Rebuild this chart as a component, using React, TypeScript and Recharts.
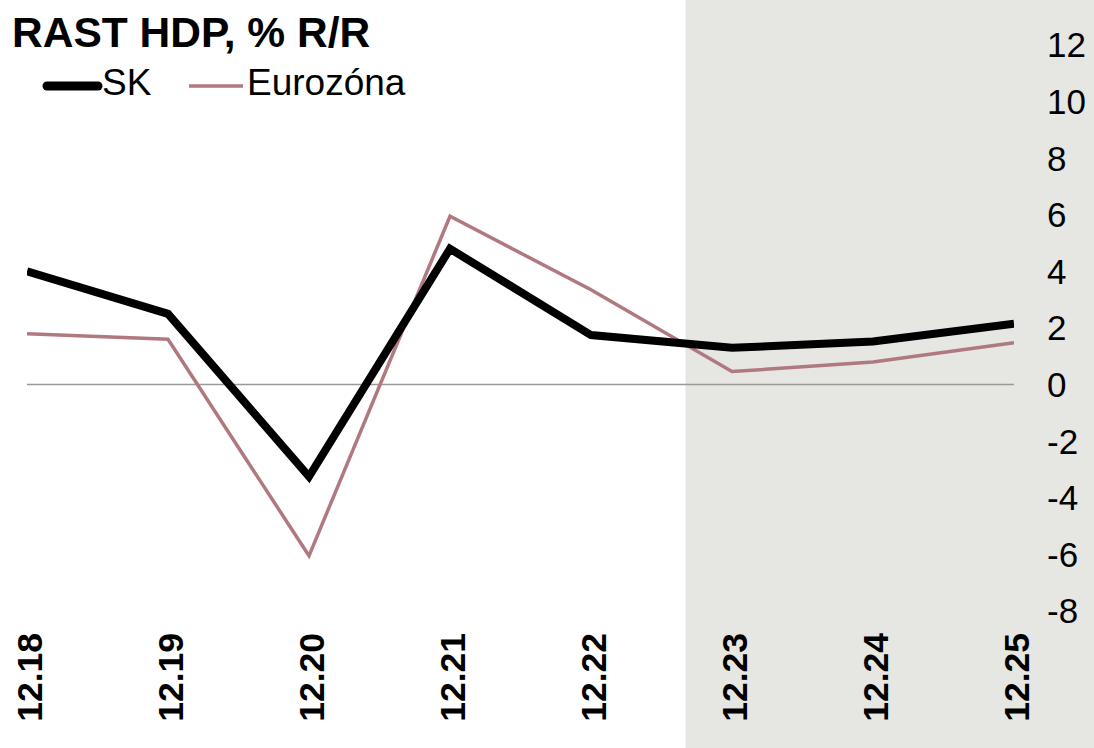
import React from 'react';
import { LineChart, Line, XAxis, YAxis, ReferenceArea, ReferenceLine } from 'recharts';

const categories = ['12.18', '12.19', '12.20', '12.21', '12.22', '12.23', '12.24', '12.25'];
const skValues = [4.0, 2.5, -3.25, 4.8, 1.75, 1.3, 1.52, 2.15];
const euroValues = [1.8, 1.6, -6.05, 5.95, 3.35, 0.46, 0.8, 1.48];
const yTicks = [-8, -6, -4, -2, 0, 2, 4, 6, 8, 10, 12];
const xTicks = categories.map((_, i) => i);

const TITLE = 'RAST HDP, % R/R';
const SK_NAME = 'SK';
const EURO_NAME = 'Eurozóna';

const SK_COLOR = '#000000';
const EURO_COLOR = '#B0787F';
const SHADE = '#E6E6E2';
const FONT = '"Liberation Sans", Arial, sans-serif';

// forecast band (data-space)
const FORECAST_START = 4.67;
const BAND_END = 7.6;
const BAND_TOP = 14;
const BAND_BOTTOM = -13.5;

const data = categories.map((c, i) => ({ i, label: c, sk: skValues[i], euro: euroValues[i] }));

const XTick = (props: any) => {
  const { x, y, payload } = props;
  return (
    <g transform={`translate(${x},${y}) rotate(-90)`}>
      <text x={0} y={0} dy="0.42em" textAnchor="end" fontFamily={FONT} fontWeight="bold" fontSize={35.5} fill="#000">
        {categories[payload.value]}
      </text>
    </g>
  );
};

export default function App() {
  return (
    <div style={{ position: 'absolute', left: 0, top: 0, width: 1094, height: 748, background: '#fff' }}>
      <LineChart
        width={1094}
        height={748}
        data={data}
        margin={{ top: 45, left: 27, right: 20, bottom: 0 }}
      >
        <ReferenceArea
          x1={FORECAST_START}
          x2={BAND_END}
          y1={BAND_BOTTOM}
          y2={BAND_TOP}
          fill={SHADE}
          fillOpacity={1}
          stroke="none"
          ifOverflow="visible"
        />
        <XAxis
          dataKey="i"
          type="number"
          domain={[0, 7]}
          ticks={xTicks}
          interval={0}
          axisLine={false}
          tickLine={false}
          tickSize={0}
          tickMargin={22}
          height={137}
          tick={<XTick />}
          allowDataOverflow
        />
        <YAxis
          orientation="right"
          domain={[-8, 12]}
          ticks={yTicks}
          interval={0}
          axisLine={false}
          tickLine={false}
          tickSize={0}
          tickMargin={33}
          width={60}
          tick={{ fontFamily: FONT, fontSize: 35, fill: '#000' }}
        />
        <ReferenceLine y={0} stroke="#999999" strokeWidth={1.5} />
        <Line
          type="linear"
          dataKey="euro"
          stroke={EURO_COLOR}
          strokeWidth={3.5}
          dot={false}
          isAnimationActive={false}
        />
        <Line
          type="linear"
          dataKey="sk"
          stroke={SK_COLOR}
          strokeWidth={8}
          dot={false}
          isAnimationActive={false}
        />
      </LineChart>
      <svg
        width={1094}
        height={120}
        style={{ position: 'absolute', left: 0, top: 0, pointerEvents: 'none' }}
      >
        <text x={12} y={47} fontFamily={FONT} fontWeight="bold" fontSize={42.5} fill="#000">
          {TITLE}
        </text>
        <line x1={47} y1={86} x2={98} y2={86} stroke={SK_COLOR} strokeWidth={9} strokeLinecap="round" />
        <text x={102} y={95} fontFamily={FONT} fontSize={37} fill="#000">
          {SK_NAME}
        </text>
        <line x1={189} y1={86} x2={243} y2={86} stroke={EURO_COLOR} strokeWidth={3.5} />
        <text x={247} y={95} fontFamily={FONT} fontSize={37} fill="#000">
          {EURO_NAME}
        </text>
      </svg>
    </div>
  );
}
